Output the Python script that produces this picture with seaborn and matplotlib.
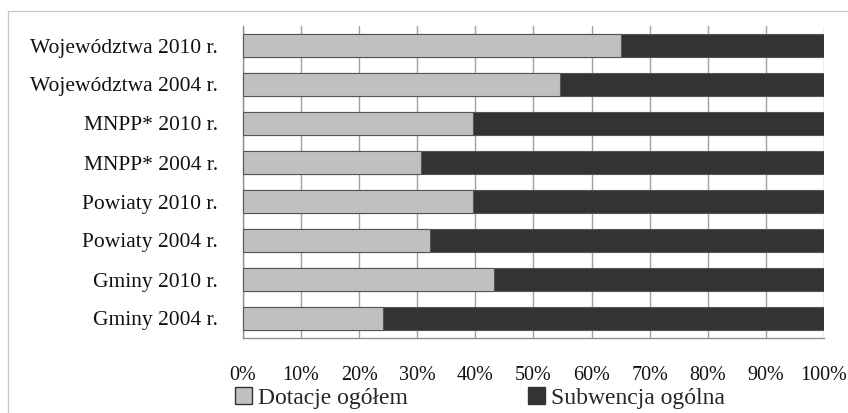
import pandas as pd
import matplotlib
matplotlib.use("Agg")
import matplotlib.pyplot as plt
from matplotlib.lines import Line2D
from matplotlib.patches import Patch
from matplotlib.ticker import PercentFormatter
import seaborn as sns

# Data (share of total, %)
categories = ["Województwa 2010 r.", "Województwa 2004 r.",
              "MNPP* 2010 r.", "MNPP* 2004 r.",
              "Powiaty 2010 r.", "Powiaty 2004 r.",
              "Gminy 2010 r.", "Gminy 2004 r."]
dotacje = [65.0, 54.6, 39.6, 30.6, 39.6, 32.2, 43.2, 24.1]
subwencja = [100 - d for d in dotacje]

df = pd.DataFrame({"kategoria": categories,
                   "dotacje": dotacje,
                   "subwencja": subwencja})
df["suma"] = df["dotacje"] + df["subwencja"]

sns.set_style("white")
plt.rcParams["font.family"] = ["Liberation Serif", "DejaVu Serif"]

fig = plt.figure(figsize=(8.48, 4.13), dpi=100)
ax = fig.add_axes([243 / 848, 1 - 338 / 413, 581 / 848, 312 / 413])

light = "#c0c0c0"
dark = "#333333"

# Stacked bars: full length dark, light dotacje part drawn over it
sns.barplot(data=df, y="kategoria", x="suma", color=dark, orient="h",
            width=0.59, edgecolor="#555555", linewidth=0.8, ax=ax, zorder=2)
sns.barplot(data=df, y="kategoria", x="dotacje", color=light, orient="h",
            width=0.59, edgecolor="#555555", linewidth=0.8, ax=ax, zorder=3)

ax.set_xlim(0, 100)
ax.set_ylim(7.5, -0.5)
ax.set_xticks(range(0, 101, 10))
ax.xaxis.set_major_formatter(PercentFormatter(decimals=0))
ax.set_xlabel("")
ax.set_ylabel("")
ax.grid(axis="x", color="#a0a0a0", linewidth=1.0, zorder=0)
ax.set_axisbelow(True)

for s in ["top", "right"]:
    ax.spines[s].set_visible(False)
for s in ["left", "bottom"]:
    ax.spines[s].set_color("#909090")
    ax.spines[s].set_linewidth(1.0)

ax.set_yticks([i - 0.5 for i in range(len(categories) + 1)], minor=True)
ax.tick_params(axis="y", which="major", length=0, pad=18, labelsize=15.5, labelcolor="#111111")
ax.tick_params(axis="y", which="minor", length=6, color="#909090", width=1.0)
ax.tick_params(axis="x", length=6, color="#909090", width=1.0, pad=14,
               labelsize=14.5, labelcolor="#111111")

handles = [Patch(facecolor=light, edgecolor="#333333", linewidth=1.0),
           Patch(facecolor=dark, edgecolor="#333333", linewidth=1.0)]
fig.legend(handles, ["Dotacje ogółem", "Subwencja ogólna"], loc="center",
           bbox_to_anchor=(480 / 848, 1 - 398 / 413), ncol=2, frameon=False,
           fontsize=17, handlelength=0.7, handleheight=0.7, handletextpad=0.25,
           columnspacing=5.1, borderpad=0)

# Outer frame of the original chart (only top and left edges visible)
fig.add_artist(Line2D([8 / 848, 1.0], [1 - 11 / 413, 1 - 11 / 413],
                      transform=fig.transFigure, color="#c8c8c8", linewidth=1.0))
fig.add_artist(Line2D([8 / 848, 8 / 848], [0.0, 1 - 11 / 413],
                      transform=fig.transFigure, color="#c8c8c8", linewidth=1.0))

fig.savefig("out.png", dpi=100)
